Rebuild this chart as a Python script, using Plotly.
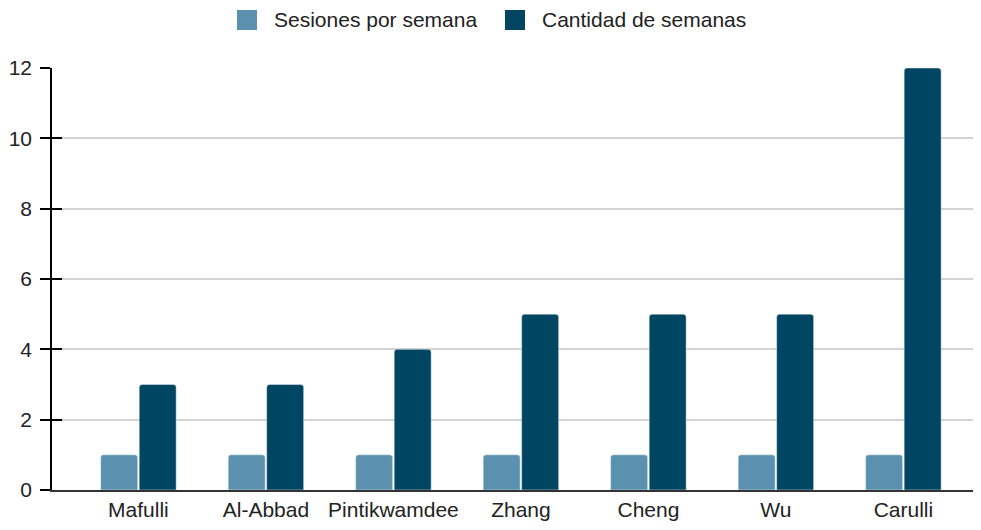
import plotly.graph_objects as go

# Sessions data per author
autores = ['Mafulli', 'Al-Abbad', 'Pintikwamdee', 'Zhang', 'Cheng', 'Wu', 'Carulli']
sesiones_por_semana = [1, 1, 1, 1, 1, 1, 1]
cantidad_semanas = [3, 3, 4, 5, 5, 5, 12]
y_ticks = [0, 2, 4, 6, 8, 10, 12]

series = [('Sesiones por semana', sesiones_por_semana, '#5b91ae'),
          ('Cantidad de semanas', cantidad_semanas, '#004561')]

# plot area in page pixels (body has an 8px margin)
PX0, PX1, PY0, PY1 = 52, 973, 68, 490

fig = go.Figure()
for name, vals, color in series:
    fig.add_trace(go.Bar(x=autores, y=vals, name=name, marker_color=color,
                         showlegend=False))
# invisible trace to carry the inner half of the y ticks
fig.add_trace(go.Scatter(x=autores, y=cantidad_semanas, yaxis='y2',
                         mode='markers', marker_opacity=0,
                         showlegend=False, hoverinfo='skip'))

# legend drawn by hand: big square swatches like the original
legend_x = [237, 505]
pw, ph = PX1 - PX0, PY1 - PY0
for (name, vals, color), lx in zip(series, legend_x):
    fig.add_shape(type='rect', xref='paper', yref='paper',
                  x0=(lx - PX0) / pw, x1=(lx + 20 - PX0) / pw,
                  y0=(PY1 - 30) / ph, y1=(PY1 - 10) / ph,
                  fillcolor=color, line_width=0, layer='above')
    fig.add_annotation(x=(lx + 35 - PX0) / pw, y=(PY1 - 20) / ph,
                       xref='paper', yref='paper', text=name,
                       showarrow=False, xanchor='left', yanchor='middle',
                       font=dict(size=21))

fig.update_layout(
    width=965, height=514,
    margin=dict(l=PX0 - 8, r=8 + 965 - PX1, t=PY0 - 8, b=8 + 514 - PY1,
                autoexpand=False),
    plot_bgcolor='white', paper_bgcolor='white',
    font=dict(family='Liberation Sans, Arial, sans-serif', size=21, color='#222222'),
    barmode='group', bargap=0.396, bargroupgap=0.04,
    barcornerradius=3,
    xaxis=dict(range=[-0.678, 6.546], showgrid=False, showline=True,
               linecolor='#333333', linewidth=1.5, ticks='', automargin=False,
               ticklabelstandoff=0),
    yaxis=dict(range=[0, 12], tickvals=y_ticks, showgrid=True,
               gridcolor='#d3d3d3', gridwidth=1.5, showline=True,
               linecolor='#000000', linewidth=1.5, ticks='outside',
               ticklen=10, tickwidth=1.5, tickcolor='#000000', zeroline=False,
               automargin=False, ticklabelstandoff=4),
    yaxis2=dict(range=[0, 12], tickvals=y_ticks, overlaying='y', side='left',
                showticklabels=False, showgrid=False, ticks='inside',
                ticklen=10, tickwidth=1.5, tickcolor='#000000', zeroline=False,
                automargin=False),
)

fig.write_html('out.html')
